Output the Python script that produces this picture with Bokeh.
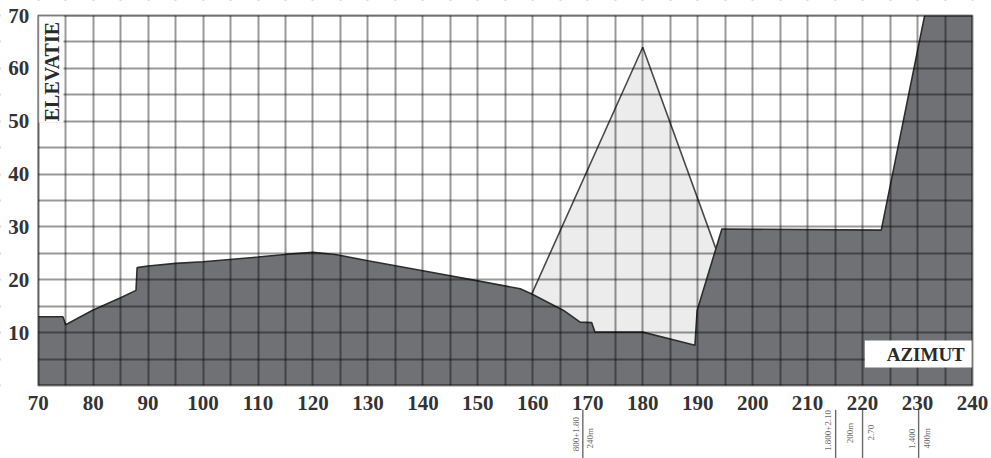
import math

from bokeh.embed import file_html
from bokeh.models import Arrow, BoxAnnotation, FixedTicker, Label, Range1d
from bokeh.plotting import figure
from bokeh.resources import INLINE

# Horizon profile: azimuth (deg) vs. elevation (deg) of the obstructing terrain
ground_az = [70, 74.5, 75, 80, 85, 87.8, 88, 90, 95, 100, 110, 115, 120, 124,
             130, 140, 150, 157.7, 159.8, 165.6, 168.6, 170.7, 171.3, 180,
             189.5, 189.9, 194.4, 223.4, 231.3, 240]
ground_el = [13, 13, 11.5, 14.3, 16.6, 18, 22.3, 22.6, 23.1, 23.4, 24.3, 24.8,
             25.2, 24.8, 23.6, 21.7, 19.8, 18.3, 17.3, 14.2, 12.0, 11.9, 10.1,
             10.1, 7.6, 14.2, 29.6, 29.4, 70, 70]

# Sun path wedge (apex and the two points where it meets the terrain)
sun_az = [159.8, 180, 193.3]
sun_el = [17.3, 64, 25.9]

x_ticks = list(range(70, 241, 10))
y_ticks = list(range(10, 71, 10))
x_grid = list(range(70, 241, 5))
y_grid = list(range(0, 71, 5))

# Survey notes written under the azimuth axis
note_text = ["800+1.80", "240m", "1.800+2.10", "200m", "2.70", "1.400", "400m"]
note_az = [167.8, 170.4, 213.8, 217.8, 221.5, 229.0, 231.8]
note_el = [-9.2, -10.0, -8.5, -9.0, -8.9, -10.1, -10.0]
bar_az = [169.1, 215.1, 220.0, 230.2]

SERIF = "Liberation Serif"
AZ_MIN, AZ_MAX = 70, 240
EL_MIN, EL_MAX = 0, 70

# The frame covers the whole page; the chart body (70-240 / 0-70) sits inside it
# and the margins are masked white, so the notes under the axis can be drawn too.
p = figure(width=991, height=458, x_range=Range1d(63.14, 243.46),
           y_range=Range1d(-13.81, 72.84),
           output_backend="svg", toolbar_location=None,
           min_border=0, background_fill_color="white",
           border_fill_color="white", outline_line_color=None)

# light wedge of the sun path, extended downward so the terrain covers its base
wedge_x = sun_az + [sun_az[-1], sun_az[0]]
wedge_y = sun_el + [EL_MIN, EL_MIN]
p.patch(wedge_x, wedge_y, fill_color="#ececec", line_color=None)
p.line(sun_az, sun_el, line_color="#4a4a4a", line_width=1.6)

# terrain
p.varea(x=ground_az, y1=[EL_MIN] * len(ground_az), y2=ground_el, fill_color="#707174")
p.line(ground_az, ground_el, line_color="#2e2e2e", line_width=1.6)

# grid drawn over the filled areas
p.xgrid.ticker = FixedTicker(ticks=x_grid)
p.ygrid.ticker = FixedTicker(ticks=y_grid)
for g in (p.xgrid, p.ygrid):
    g.level = "guide"
    g.grid_line_color = "black"
    g.grid_line_alpha = 0.4
    g.grid_line_width = 2

# white margins around the chart body
mask = dict(fill_color="white", fill_alpha=1, line_color=None)
p.add_layout(BoxAnnotation(right=AZ_MIN, **mask))
p.add_layout(BoxAnnotation(left=AZ_MAX, **mask))
p.add_layout(BoxAnnotation(bottom=EL_MAX, **mask))
p.add_layout(BoxAnnotation(top=EL_MIN, **mask))

# axis captions inside the chart body on white boxes
p.add_layout(BoxAnnotation(left=AZ_MIN, right=74.6, bottom=49.7, top=EL_MAX, **mask))
p.add_layout(Label(x=72.5, y=50.0, text="ELEVATIE", angle=math.pi / 2,
                   text_align="left", text_baseline="middle", text_font=SERIF,
                   text_font_style="bold", text_font_size="20px",
                   text_color="#2a2a2a"))
p.add_layout(BoxAnnotation(left=220.4, right=AZ_MAX, bottom=3.4, top=8.5, **mask))
p.add_layout(Label(x=238.6, y=5.9, text="AZIMUT", text_align="right",
                   text_baseline="middle", text_font=SERIF,
                   text_font_style="bold", text_font_size="19px",
                   text_color="#2a2a2a"))

# border of the chart body
p.add_layout(BoxAnnotation(left=AZ_MIN, right=AZ_MAX, bottom=EL_MIN, top=EL_MAX,
                           fill_color=None, line_color="black", line_alpha=0.45,
                           line_width=2))

# survey notes below the axis
for t, xa, ya in zip(note_text, note_az, note_el):
    p.add_layout(Label(x=xa, y=ya, text=t, angle=math.pi / 2, text_align="center",
                       text_baseline="middle", text_font=SERIF,
                       text_font_size="9px", text_color="#6a6a6a"))
for xa in bar_az:
    p.add_layout(Arrow(x_start=xa, y_start=-4.6, x_end=xa, y_end=-13.9,
                       start=None, end=None, line_color="#6a6a6a", line_width=1.4))

# axes pinned to the chart body edges, painted above the masks
p.xaxis.ticker = FixedTicker(ticks=x_ticks)
p.xaxis.fixed_location = EL_MIN
p.yaxis.ticker = FixedTicker(ticks=y_ticks)
p.yaxis.fixed_location = AZ_MIN
for ax in (p.xaxis, p.yaxis):
    ax.level = "overlay"
    ax.axis_line_color = None
    ax.major_tick_line_color = None
    ax.minor_tick_line_color = None
    ax.major_label_text_font = SERIF
    ax.major_label_text_font_style = "bold"
    ax.major_label_text_font_size = "21px"
    ax.major_label_text_color = "#333333"
p.xaxis.major_label_standoff = 4
p.yaxis.major_label_standoff = 3

open("out.html", "w").write(file_html(p, INLINE))
